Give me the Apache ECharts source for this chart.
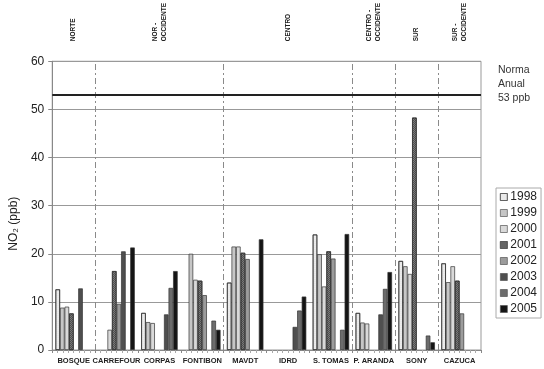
<!DOCTYPE html>
<html>
<head>
<meta charset="utf-8">
<script src="https://cdn.jsdelivr.net/npm/echarts@6/dist/echarts.min.js"></script>
<style>html,body{margin:0;padding:0;background:#fff;}#c{width:544px;height:369px;}</style>
</head>
<body>
<div id="c"></div>
<script>
const categories = ['BOSQUE','CARREFOUR','CORPAS','FONTIBON','MAVDT','IDRD','S. TOMAS','P. ARANDA','SONY','CAZUCA'];
const years = ['1998','1999','2000','2001','2002','2003','2004','2005'];
const y1998 = [12.6, null, 7.7, null, 14.0, null, 24.0, 7.7, 18.5, 18.0];
const y1999 = [8.8, null, 5.8, 20.0, 21.5, null, 19.9, 5.7, 17.4, 14.1];
const y2000 = [9.0, 4.2, 5.6, 14.6, 21.5, null, 13.2, 5.5, 15.8, 17.4];
const y2001 = [7.6, 16.4, null, 14.4, 20.2, null, 20.5, null, 48.3, 14.4];
const y2002 = [null, 9.6, null, 11.4, 18.9, null, 19.0, null, null, 7.6];
const y2003 = [12.8, 20.5, 7.4, null, null, 4.8, null, 7.4, null, null];
const y2004 = [null, null, 12.9, 6.1, null, 8.2, 4.2, 12.7, 3.0, null];
const y2005 = [null, 21.3, 16.4, 4.2, 23.0, 11.1, 24.1, 16.2, 1.6, null];
const seriesValues = [y1998, y1999, y2000, y2001, y2002, y2003, y2004, y2005];
// regions: name and category span [start, end)
const regionNames = ['NORTE','NOR -\nOCCIDENTE','CENTRO','CENTRO -\nOCCIDENTE','SUR','SUR -\nOCCIDENTE'];
const regionStarts = [0, 1, 4, 7, 8, 9];
const regionEnds   = [1, 4, 7, 8, 9, 10];
const normValue = 53;
const normLabel = 'Norma\nAnual\n53 ppb';

const colors = ['#f7f7f7','#c6c6c6','#d9d9d9','#7a7a7a','#9c9c9c','#4f4f4f','#6c6c6c','#151515'];
const decals = [
  {symbol:'circle', symbolSize:0.5, color:'rgba(0,0,0,0.28)', dashArrayX:[2,0], dashArrayY:[2,0], rotation:0},
  null, null,
  {symbol:'rect', symbolSize:1, color:'rgba(0,0,0,0.35)', dashArrayX:[[1,1],[0,1,1,0]], dashArrayY:[1,0], rotation:0},
  null, null, null, null
];

const regionCenters = regionStarts.map((s,i)=> (s + regionEnds[i]) / 2);
const boundaries = regionStarts.slice(1);

const chart = echarts.init(document.getElementById('c'));
const font = 'Liberation Sans, Arial, sans-serif';

const bars = years.map((y,i)=>{
  const st = {color: colors[i], borderColor:'#333', borderWidth:0.7};
  if (decals[i]) st.decal = decals[i];
  return {
    type:'bar', name:y, data: seriesValues[i], xAxisIndex:0, yAxisIndex:0,
    barGap:'0%', barCategoryGap:'15%', itemStyle: st
  };
});

bars.push({
  type:'line', xAxisIndex:1, yAxisIndex:0, data:[[0,0]], showSymbol:false, symbol:'none',
  lineStyle:{opacity:0}, silent:true, legendHoverLink:false,
  markLine:{
    symbol:'none', silent:true, animation:false,
    label:{show:false},
    data: boundaries.map(b=>({xAxis:b, lineStyle:{type:[6,3,2,3], color:'#8a8a8a', width:1}}))
      .concat([{yAxis:normValue, lineStyle:{type:'solid', color:'#222', width:2}}])
  }
});

chart.setOption({
  animation:false,
  textStyle:{fontFamily:font},
  grid:{left:40, right:63, top:52, bottom:19, show:true, borderColor:'#999', borderWidth:1},
  legend:{
    orient:'vertical', left:496, top:188, itemWidth:7, itemHeight:7, itemGap:4,
    padding:[3,4,3,4], borderColor:'#aaa', borderWidth:1, icon:'rect',
    textStyle:{fontSize:12, color:'#222', lineHeight:12, padding:[0,0,0,-2], fontFamily:font},
    itemStyle:{borderColor:'#555', borderWidth:0.7},
    data: years
  },
  graphic:[{
    type:'text', left:498, top:63,
    style:{text:normLabel, fill:'#333', font:'10.5px Liberation Sans, Arial', align:'center', lineHeight:14}
  }],
  xAxis:[
    {type:'category', data:categories, position:'bottom',
     axisLine:{show:true, lineStyle:{color:'#888'}}, axisTick:{show:false},
     axisLabel:{fontSize:7.5, fontWeight:'bold', color:'#222', margin:7, interval:0, fontFamily:font}},
    {type:'value', min:0, max:10, interval:1, position:'bottom',
     axisLine:{show:false}, axisTick:{show:true, length:3, lineStyle:{color:'#888'}},
     minorTick:{show:true, splitNumber:8, length:3, lineStyle:{color:'#aaa'}},
     axisLabel:{show:false}, splitLine:{show:false}},
    {type:'value', min:0, max:10, position:'top',
     axisLine:{show:false}, axisTick:{show:false}, splitLine:{show:false},
     axisLabel:{customValues: regionCenters, rotate:-90, fontSize:6.5, fontWeight:'bold', color:'#222', margin:20, fontFamily:font,
       lineHeight:9,
       formatter:(v)=>{ const k = regionCenters.indexOf(v); return k>=0 ? regionNames[k] : ''; }}}
  ],
  yAxis:[{
    type:'value', min:0, max:60, interval:10,
    axisLine:{show:true, lineStyle:{color:'#888'}},
    axisTick:{show:true, length:4, lineStyle:{color:'#888'}},
    splitLine:{show:true, lineStyle:{color:'#999'}},
    axisLabel:{fontSize:12, color:'#222', margin:8, fontFamily:font},
    name:'NO\u2082 (ppb)', nameLocation:'middle', nameGap:23, nameRotate:90,
    nameTextStyle:{fontSize:12, color:'#222', padding:[0,36,0,0], fontFamily:font}
  }],
  series: bars
});
</script>
</body>
</html>
